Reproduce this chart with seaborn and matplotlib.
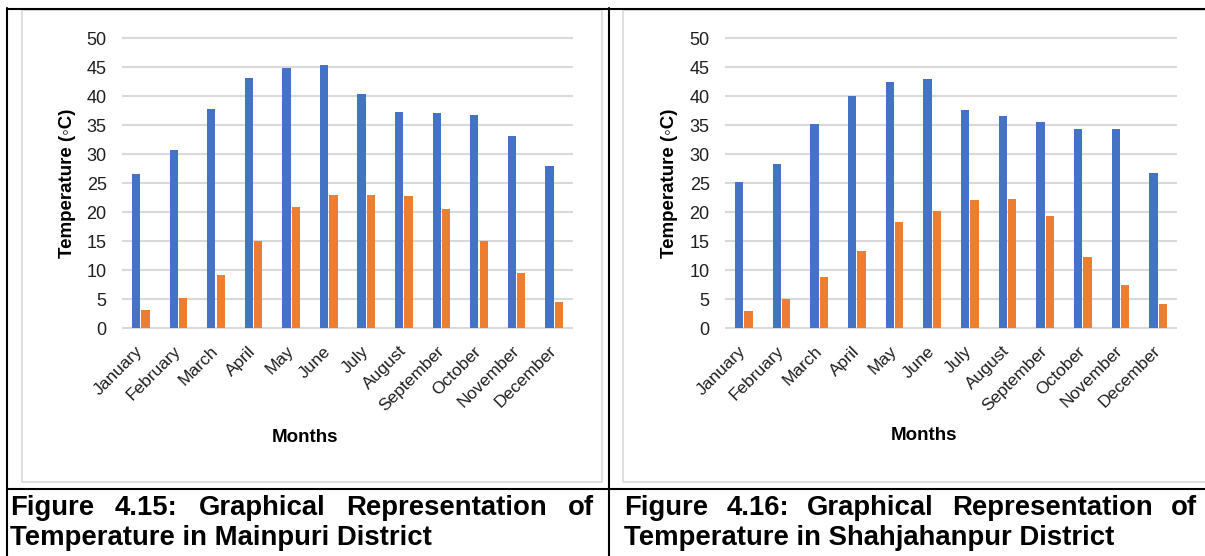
import matplotlib
matplotlib.use("Agg")
import matplotlib.pyplot as plt
from matplotlib.lines import Line2D
from matplotlib.patches import Rectangle
import numpy as np
import pandas as pd
import seaborn as sns

# ---- data -------------------------------------------------------------
months = ["January", "February", "March", "April", "May", "June", "July",
          "August", "September", "October", "November", "December"]

mainpuri_max = [26.6, 30.7, 37.8, 43.2, 44.8, 45.4, 40.4, 37.3, 37.1, 36.7, 33.1, 27.9]
mainpuri_min = [3.2, 5.3, 9.2, 15.1, 20.9, 23.0, 22.9, 22.8, 20.6, 15.0, 9.5, 4.6]

shahjahanpur_max = [25.3, 28.4, 35.2, 40.0, 42.4, 42.9, 37.7, 36.6, 35.5, 34.4, 34.4, 26.8]
shahjahanpur_min = [3.0, 5.0, 8.8, 13.3, 18.3, 20.2, 22.2, 22.3, 19.3, 12.3, 7.5, 4.2]

series_names = ["Maximum", "Minimum"]
y_ticks = [0, 5, 10, 15, 20, 25, 30, 35, 40, 45, 50]

caption_left = ["Figure 4.15: Graphical Representation of",
                "Temperature in Mainpuri District"]
caption_right = ["Figure 4.16: Graphical Representation of",
                 "Temperature in Shahjahanpur District"]

# ---- style ------------------------------------------------------------
sns.set_theme(style="white")
plt.rcParams["font.family"] = ["Liberation Sans", "DejaVu Sans"]

W, H = 1205, 556
fig = plt.figure(figsize=(W / 100, H / 100), dpi=100)
fig.patch.set_facecolor("white")


def fx(x):
    return x / W


def fy(y):
    return 1 - y / H


def axes_px(left, top, right, bottom):
    return fig.add_axes([fx(left), fy(bottom), (right - left) / W, (bottom - top) / H])


palette = {"Maximum": "#4472C4", "Minimum": "#ED7D31"}


def long_frame(vmax, vmin):
    return pd.DataFrame({
        "Month": months * 2,
        "Series": [series_names[0]] * len(months) + [series_names[1]] * len(months),
        "Temperature": list(vmax) + list(vmin),
    })


def draw_panel(ax, vmax, vmin, xlabel_x, xlabel_y, ylabel_x):
    df = long_frame(vmax, vmin)
    sns.barplot(data=df, x="Month", y="Temperature", hue="Series",
                order=months, hue_order=series_names, palette=palette,
                width=0.5, gap=0.12, legend=False, errorbar=None,
                saturation=1, linewidth=0, ax=ax)
    ax.set_ylim(-0.4, 50.4)
    ax.set_xlim(-0.5, len(months) - 0.5)
    ax.set_yticks(y_ticks)
    ax.set_yticklabels([str(t) for t in y_ticks])
    ax.yaxis.grid(True, color="#D9D9D9", linewidth=1.5)
    ax.xaxis.grid(False)
    ax.set_axisbelow(True)
    for s in ax.spines.values():
        s.set_visible(False)
    ax.tick_params(axis="y", length=0, pad=11, labelsize=13, labelcolor="#1f1f1f")
    ax.tick_params(axis="x", length=0, pad=13, labelsize=12.5, labelcolor="#1f1f1f")
    for lab in ax.get_xticklabels():
        lab.set_rotation(45)
        lab.set_ha("right")
        lab.set_va("center")
        lab.set_rotation_mode("anchor")
    ax.set_xlabel("Months", fontsize=13.5, fontweight="bold", color="black")
    ax.set_ylabel("Temperature (◦C)", fontsize=13.5, fontweight="bold", color="black")
    ax.xaxis.label.set_va("center")
    ax.yaxis.label.set_va("center")
    ax.xaxis.set_label_coords(xlabel_x, xlabel_y)
    ax.yaxis.set_label_coords(ylabel_x, 0.5)


ax_top, ax_bottom = 36.0, 330.6
ax1 = axes_px(122, ax_top, 573, ax_bottom)
ax2 = axes_px(725, ax_top, 1177, ax_bottom)
span = ax_bottom - ax_top
draw_panel(ax1, mainpuri_max, mainpuri_min,
           (305 - 122) / 451, (ax_bottom - 437) / span, (68 - 122) / 451)
draw_panel(ax2, shahjahanpur_max, shahjahanpur_min,
           (924 - 725) / 452, (ax_bottom - 435) / span, (669 - 725) / 452)

# ---- chart-area frames (light grey) -----------------------------------
frame_kw = dict(fill=False, edgecolor="#D9D9D9", linewidth=1.2,
                transform=fig.transFigure, figure=fig)
fig.patches.append(Rectangle((fx(22), fy(482)), fx(602) - fx(22), fy(10) - fy(482), **frame_kw))
fig.patches.append(Rectangle((fx(623), fy(482)), fx(1215) - fx(623), fy(10) - fy(482), **frame_kw))

# ---- table rules (black) ----------------------------------------------
rule_kw = dict(color="black", linewidth=1.5, transform=fig.transFigure)
fig.add_artist(Line2D([fx(7), fx(1205)], [fy(8.5), fy(8.5)], **rule_kw))
fig.add_artist(Line2D([fx(7.5), fx(7.5)], [fy(8), fy(556)], **rule_kw))
fig.add_artist(Line2D([fx(609), fx(609)], [fy(8), fy(556)], **rule_kw))
fig.add_artist(Line2D([fx(7), fx(1205)], [fy(489), fy(489)], **rule_kw))

# ---- captions (first line justified) ----------------------------------
cap_kw = dict(fontsize=19.8, fontweight="bold", color="black", va="baseline")
renderer = fig.canvas.get_renderer()


def justified_line(text, x0, x1, y):
    words = text.split()
    arts = [fig.text(fx(x0), fy(y), w, ha="left", **cap_kw) for w in words]
    widths = [a.get_window_extent(renderer).width for a in arts]
    gap = (x1 - x0 - sum(widths)) / (len(words) - 1)
    x = x0
    for a, w in zip(arts, widths):
        a.set_x(fx(x))
        x += w + gap


justified_line(caption_left[0], 10, 594, 515)
fig.text(fx(10), fy(545), caption_left[1], ha="left", **cap_kw)
justified_line(caption_right[0], 624, 1197, 515)
fig.text(fx(624), fy(545), caption_right[1], ha="left", **cap_kw)

fig.savefig("out.png", dpi=100, facecolor="white")
